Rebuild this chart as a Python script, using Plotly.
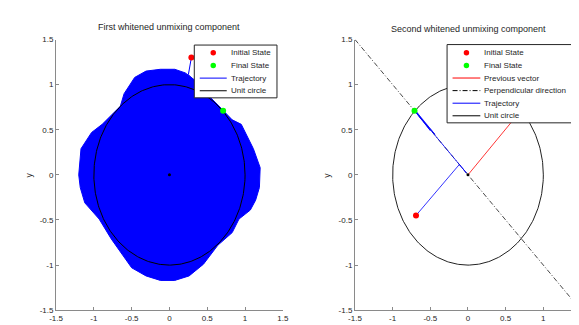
import numpy as np
import plotly.graph_objects as go

W, H = 579, 325

# ---------------- data ----------------
tick_vals = [-1.5, -1, -0.5, 0, 0.5, 1, 1.5]
tick_text = ["-1.5", "-1", "-0.5", "0", "0.5", "1", "1.5"]

# Panel 1: first whitened unmixing component
p1_initial_x = [0.29]
p1_initial_y = [1.30]
p1_final_x = [0.71]
p1_final_y = [0.71]
p1_traj_x = [0.29, 0.25, 0.71]
p1_traj_y = [1.30, 1.11, 0.71]
# outline of the dense trajectory cloud
p1_cloud_x = [-1.20, -1.17, -1.03, -0.89, -0.65, -0.60, -0.46, -0.31, -0.12, 0.07, 0.21,
              0.35, 0.54, 0.71, 0.83, 0.95, 1.11, 1.20, 1.19, 1.14, 1.07, 0.92, 0.83,
              0.64, 0.45, 0.26, 0.07, -0.12, -0.31, -0.50, -0.65, -0.77, -0.93, -1.12,
              -1.18, -1.20]
p1_cloud_y = [0.00, 0.29, 0.47, 0.56, 0.76, 0.90, 1.08, 1.15, 1.17, 1.17, 1.13,
              1.04, 0.86, 0.72, 0.61, 0.56, 0.29, 0.08, -0.14, -0.28, -0.39, -0.49, -0.64,
              -0.78, -0.99, -1.12, -1.17, -1.17, -1.12, -1.03, -0.85, -0.71, -0.49, -0.31,
              -0.14, 0.00]

# Panel 2: second whitened unmixing component
p2_initial_x = [-0.69]
p2_initial_y = [-0.45]
p2_final_x = [-0.71]
p2_final_y = [0.71]
p2_prev_x = [0.0, 0.70]
p2_prev_y = [0.0, 0.71]
p2_perp_x = [-1.5, 1.5]
p2_perp_y = [1.5, -1.5]
p2_traj_x = [-0.69, -0.115, -0.02, -0.71, -0.44, -0.70, -0.50, -0.71]
p2_traj_y = [-0.45, 0.115, 0.02, 0.71, 0.45, 0.715, 0.49, 0.71]

origin_x = [0.0]
origin_y = [0.0]
unit_radius = 1.0

# ---------------- styling ----------------
FONT = "Liberation Sans, Arial, sans-serif"
TXT = "#262626"
AXC = "#8a8a8a"
BLUE = "#0000ff"
RED = "#ff0000"
GREEN = "#00ff00"
DASHDOT = "5px,2px,1px,2px"

theta = np.linspace(0, 2 * np.pi, 361)
circ_x = unit_radius * np.cos(theta)
circ_y = unit_radius * np.sin(theta)

fig = go.Figure()

def add(tr, k):
    tr.update(xaxis="x" if k == 1 else "x2", yaxis="y" if k == 1 else "y2",
              showlegend=False, hoverinfo="skip")
    fig.add_trace(tr)

# panel 1
add(go.Scatter(x=p1_cloud_x, y=p1_cloud_y, mode="lines", fill="toself",
               fillcolor=BLUE, line=dict(color=BLUE, width=1)), 1)
add(go.Scatter(x=p1_traj_x, y=p1_traj_y, mode="lines", line=dict(color=BLUE, width=1)), 1)
add(go.Scatter(x=circ_x, y=circ_y, mode="lines", line=dict(color="black", width=1)), 1)
add(go.Scatter(x=origin_x, y=origin_y, mode="markers", marker=dict(color="black", size=3)), 1)
add(go.Scatter(x=p1_initial_x, y=p1_initial_y, mode="markers", marker=dict(color=RED, size=6)), 1)
add(go.Scatter(x=p1_final_x, y=p1_final_y, mode="markers", marker=dict(color=GREEN, size=6)), 1)

# panel 2
add(go.Scatter(x=circ_x, y=circ_y, mode="lines", line=dict(color="#222222", width=1)), 2)
add(go.Scatter(x=p2_perp_x, y=p2_perp_y, mode="lines",
               line=dict(color="#333333", width=0.9, dash=DASHDOT)), 2)
add(go.Scatter(x=p2_prev_x, y=p2_prev_y, mode="lines", line=dict(color=RED, width=0.8)), 2)
add(go.Scatter(x=p2_traj_x, y=p2_traj_y, mode="lines", line=dict(color=BLUE, width=0.8)), 2)
add(go.Scatter(x=origin_x, y=origin_y, mode="markers", marker=dict(color="black", size=3)), 2)
add(go.Scatter(x=p2_initial_x, y=p2_initial_y, mode="markers", marker=dict(color=RED, size=6)), 2)
add(go.Scatter(x=p2_final_x, y=p2_final_y, mode="markers", marker=dict(color=GREEN, size=6)), 2)

# ---------------- axes ----------------
def px(x):
    return x / W

def py(y):
    return 1 - y / H

axis_common = dict(range=[-1.5, 1.5], tickmode="array", tickvals=tick_vals, ticktext=tick_text,
                   showgrid=False, zeroline=False, showline=True, linecolor=AXC, linewidth=1,
                   ticks="inside", ticklen=3, tickcolor=AXC, tickwidth=1,
                   tickfont=dict(family=FONT, size=8, color=TXT), fixedrange=True,
                   ticklabeloverflow="allow")

ydom = [py(306.7), py(28.3)]
fig.update_layout(
    width=W, height=H, margin=dict(l=0, r=0, t=0, b=0),
    paper_bgcolor="white", plot_bgcolor="white", showlegend=False,
    xaxis=dict(domain=[px(42.0), px(274.0)], anchor="y", **axis_common),
    yaxis=dict(domain=ydom, anchor="x", **axis_common),
    xaxis2=dict(domain=[px(347.8), 1.0], anchor="y2", **axis_common),
    yaxis2=dict(domain=ydom, anchor="x2", **axis_common),
)

annotations = []
shapes = []

def text(x, y, s, size=8, angle=0, xanchor="center"):
    annotations.append(dict(x=px(x), y=py(y), xref="paper", yref="paper", text=s,
                            showarrow=False, xanchor=xanchor, yanchor="middle",
                            textangle=angle, font=dict(family=FONT, size=size, color=TXT)))

text(158.0, 15.7, "First whitened unmixing component", size=9)
text(463.5, 17.0, "Second whitened unmixing component", size=9)
text(14, 167.5, "y", size=8.5, angle=-90)
text(319, 167.5, "y", size=8.5, angle=-90)

# ---------------- legends (compact, MATLAB style) ----------------
def legend(entries, left, right, top, bottom, row0, step, s0, s1, tx):
    shapes.append(dict(type="rect", xref="paper", yref="paper", x0=px(left), x1=px(right),
                       y0=py(bottom), y1=py(top), fillcolor="white",
                       line=dict(color="#262626", width=1), layer="above"))
    for i, e in enumerate(entries):
        yy = row0 + i * step
        if e.get("line"):
            shapes.append(dict(type="line", xref="paper", yref="paper", x0=px(s0), x1=px(s1),
                               y0=py(yy), y1=py(yy), layer="above",
                               line=dict(color=e["line"], width=1, dash=e.get("dash", "solid"))))
        if e.get("marker"):
            c = (s0 + s1) / 2
            shapes.append(dict(type="circle", xref="paper", yref="paper",
                               x0=px(c - 2.8), x1=px(c + 2.8), y0=py(yy + 2.8), y1=py(yy - 2.8),
                               fillcolor=e["marker"], line=dict(width=0), layer="above"))
        text(tx, yy, e["name"], size=8, xanchor="left")

legend([dict(name="Initial State", marker=RED),
        dict(name="Final State", marker=GREEN),
        dict(name="Trajectory", line=BLUE),
        dict(name="Unit circle", line="black")],
       left=183.4, right=268, top=34, bottom=88.3, row0=42.0, step=13.0,
       s0=189, s1=216.6, tx=218.5)

legend([dict(name="Initial State", marker=RED),
        dict(name="Final State", marker=GREEN),
        dict(name="Previous vector", line=RED),
        dict(name="Perpendicular direction", line="black", dash=DASHDOT),
        dict(name="Trajectory", line=BLUE),
        dict(name="Unit circle", line="black")],
       left=442, right=574, top=33.5, bottom=114, row0=42.0, step=12.95,
       s0=447.6, s1=476.0, tx=478)

fig.update_layout(annotations=annotations, shapes=shapes)
fig.write_html("out.html")
